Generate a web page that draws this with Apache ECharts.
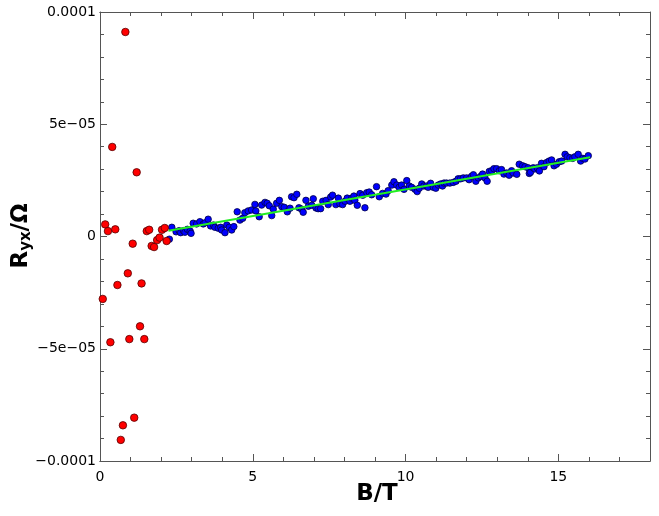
<!DOCTYPE html>
<html><head><meta charset="utf-8">
<script src="https://cdn.jsdelivr.net/npm/echarts@6/dist/echarts.min.js"></script>
<style>html,body{margin:0;padding:0;background:#fff}#c{width:659px;height:516px}</style>
</head><body><div id="c"></div>
<script>
// Red points (low field): B in T, Ryx in Ohm
const redB = [0.83,0.40,1.20,0.17,0.26,0.50,1.53,1.61,2.03,2.12,1.07,1.69,1.77,1.87,1.95,2.18,0.91,0.57,1.36,0.09,1.31,0.34,0.96,1.45,1.12,0.75,0.68];
const redR = [91.1e-6,39.9e-6,28.6e-6,5.4e-6,2.4e-6,3.2e-6,2.4e-6,3.0e-6,3.0e-6,3.8e-6,-3.2e-6,-4.2e-6,-4.7e-6,-1.6e-6,-0.5e-6,-2.0e-6,-16.4e-6,-21.6e-6,-20.9e-6,-27.8e-6,-40.0e-6,-47.1e-6,-45.7e-6,-45.7e-6,-80.7e-6,-84.1e-6,-90.6e-6];
// Blue points (high field)
const blueB = [2.27,2.35,2.49,2.59,2.64,2.73,2.78,2.86,2.95,2.98,3.05,3.16,3.27,3.38,3.44,3.54,3.62,3.71,3.76,3.87,3.95,3.98,4.09,4.15,4.23,4.31,4.38,
4.49,4.58,4.67,4.74,4.85,4.96,5.07,5.10,5.21,5.29,5.40,5.47,5.54,5.62,5.67,5.78,5.87,5.95,6.03,6.13,6.22,6.27,6.35,6.44,6.51,6.60,6.65,
6.74,6.82,6.93,6.98,7.07,7.14,7.22,7.29,7.40,7.47,7.55,7.61,7.72,7.80,7.85,7.94,8.02,8.09,8.18,8.24,8.31,8.34,8.42,8.51,8.60,8.67,8.73,8.81,8.89,
9.05,9.14,9.25,9.36,9.43,9.55,9.62,9.71,9.79,9.87,9.95,10.04,10.12,10.20,10.31,10.38,10.45,10.53,10.60,10.69,10.74,10.82,10.91,10.99,11.07,11.15,11.21,
11.26,11.34,11.45,11.56,11.65,11.72,11.80,11.89,12.00,12.08,12.16,12.22,12.30,12.38,12.46,12.52,12.60,12.67,12.74,12.82,12.89,12.98,13.07,13.14,13.22,13.31,13.39,13.47,13.52,
13.64,13.72,13.83,13.91,14.01,14.05,14.09,14.18,14.23,14.31,14.38,14.45,14.53,14.62,14.70,14.78,14.86,14.94,15.03,15.11,15.22,15.29,15.38,15.47,15.54,15.65,15.73,15.80,15.87,15.98];
const blueR = [-1.2e-6,4.1e-6,2.1e-6,2.6e-6,1.7e-6,2.6e-6,1.9e-6,3.2e-6,2.4e-6,1.4e-6,5.9e-6,5.6e-6,6.6e-6,5.6e-6,6.1e-6,7.7e-6,4.7e-6,5.1e-6,4.1e-6,3.7e-6,4.1e-6,2.9e-6,1.7e-6,5.1e-6,4.1e-6,2.9e-6,4.4e-6,
11.0e-6,7.3e-6,8.1e-6,10.6e-6,11.4e-6,11.8e-6,14.3e-6,11.4e-6,8.8e-6,14.0e-6,15.2e-6,14.8e-6,13.7e-6,9.3e-6,12.2e-6,14.8e-6,16.1e-6,13.3e-6,13.0e-6,11.0e-6,12.6e-6,17.7e-6,17.3e-6,18.8e-6,12.8e-6,12.2e-6,10.8e-6,
16.1e-6,13.5e-6,13.9e-6,16.8e-6,12.7e-6,12.4e-6,12.4e-6,15.7e-6,16.1e-6,14.2e-6,17.6e-6,18.4e-6,14.2e-6,17.1e-6,14.6e-6,14.2e-6,15.7e-6,17.1e-6,15.7e-6,17.1e-6,18.0e-6,16.1e-6,13.9e-6,19.1e-6,18.4e-6,12.8e-6,19.5e-6,19.8e-6,18.6e-6,
22.2e-6,17.7e-6,19.2e-6,18.9e-6,20.4e-6,22.9e-6,24.4e-6,22.9e-6,21.9e-6,22.9e-6,21.0e-6,24.9e-6,22.5e-6,21.9e-6,21.0e-6,20.0e-6,21.5e-6,23.4e-6,22.5e-6,22.5e-6,21.9e-6,23.7e-6,21.9e-6,21.5e-6,22.9e-6,23.4e-6,22.5e-6,
23.8e-6,23.8e-6,23.8e-6,24.1e-6,24.6e-6,25.7e-6,25.7e-6,26.1e-6,26.1e-6,25.3e-6,26.8e-6,27.5e-6,24.6e-6,26.1e-6,26.8e-6,27.8e-6,26.1e-6,24.6e-6,29.0e-6,29.3e-6,30.2e-6,30.2e-6,29.3e-6,29.8e-6,27.8e-6,28.3e-6,27.3e-6,29.3e-6,28.3e-6,
27.7e-6,32.2e-6,31.5e-6,31.1e-6,30.6e-6,28.1e-6,28.6e-6,30.6e-6,30.1e-6,30.6e-6,29.2e-6,32.6e-6,31.1e-6,33.0e-6,33.6e-6,34.1e-6,31.5e-6,32.2e-6,33.3e-6,33.6e-6,36.6e-6,35.5e-6,35.1e-6,34.8e-6,35.5e-6,36.6e-6,33.6e-6,34.8e-6,34.5e-6,36.0e-6];
// Linear fit line endpoints
const fitB = [2.24, 16.04];
const fitR = [2.6e-6, 35.3e-6];
// Tick labels
const xTickLabels = {0:'0',5:'5',10:'10',15:'15'};
const yTickLabels = ['\u22120.0001','\u22125e\u221205','0','5e\u221205','0.0001'];

const zip = (a,b) => a.map((v,i)=>[v,b[i]]);
const axisColor = '#555';
const font = 'DejaVu Sans';

function xAx(pos, major, labels){
  return {
    type:'value', position:pos, min:0, max:18, interval: major?5:1,
    axisLine:{show:true, onZero:false, lineStyle:{color:axisColor,width:1}},
    axisTick:{show:true, inside:true, length: major?7:4, lineStyle:{color:axisColor}},
    axisLabel:{show:labels, color:'#000', fontFamily:font, fontSize:14, margin:9,
      formatter:(v)=> (xTickLabels[v]!==undefined ? xTickLabels[v] : '')},
    splitLine:{show:false}
  };
}
function yAx(pos, labels){
  return {
    type:'value', position:pos, min:-1e-4, max:1e-4, interval:5e-5,
    axisLine:{show:true, onZero:false, lineStyle:{color:axisColor,width:1}},
    axisTick:{show:true, inside:true, length:7, lineStyle:{color:axisColor}},
    minorTick:{show:true, splitNumber:5, length:4, lineStyle:{color:axisColor}},
    axisLabel:{show:labels, color:'#000', fontFamily:font, fontSize:14, margin:4,
      formatter:(v,i)=> yTickLabels[i]},
    splitLine:{show:false}, minorSplitLine:{show:false}
  };
}

const chart = echarts.init(document.getElementById('c'), null, {renderer:'canvas'});
chart.setOption({
  animation:false,
  backgroundColor:'#fff',
  grid:{left:100, right:9, top:12, bottom:55},
  xAxis:[xAx('bottom',true,true), xAx('bottom',false,false), xAx('top',true,false), xAx('top',false,false)],
  yAxis:[yAx('left',true), yAx('right',false)],
  graphic:[
    {type:'text', x:377, y:494, style:{text:'B/T', font:'bold 23px "DejaVu Sans"', fill:'#000', align:'center', verticalAlign:'middle'}},
    {type:'text', x:21, y:236, rotation:Math.PI/2,
     style:{text:'{a|R}{b|yx}{a|/Ω}', fill:'#000', align:'center', verticalAlign:'middle',
       rich:{a:{fontFamily:font, fontWeight:'bold', fontSize:23, lineHeight:26, verticalAlign:'middle'},
             b:{fontFamily:font, fontWeight:'bold', fontSize:15, lineHeight:14, verticalAlign:'bottom'}}}}
  ],
  series:[
    {type:'scatter', xAxisIndex:0, yAxisIndex:0, data:zip(blueB,blueR), symbolSize:6.5, z:3,
     itemStyle:{color:'#0000ff', borderColor:'#000044', borderWidth:0.8, opacity:1}},
    {type:'line', xAxisIndex:0, yAxisIndex:0, data:zip(fitB,fitR), symbol:'none', z:4,
     lineStyle:{color:'#22ee22', width:2}},
    {type:'scatter', xAxisIndex:0, yAxisIndex:0, data:zip(redB,redR), symbolSize:7.5, z:5,
     itemStyle:{color:'#ff0000', borderColor:'#550000', borderWidth:0.8, opacity:1}}
  ]
});
</script>
</body></html>
